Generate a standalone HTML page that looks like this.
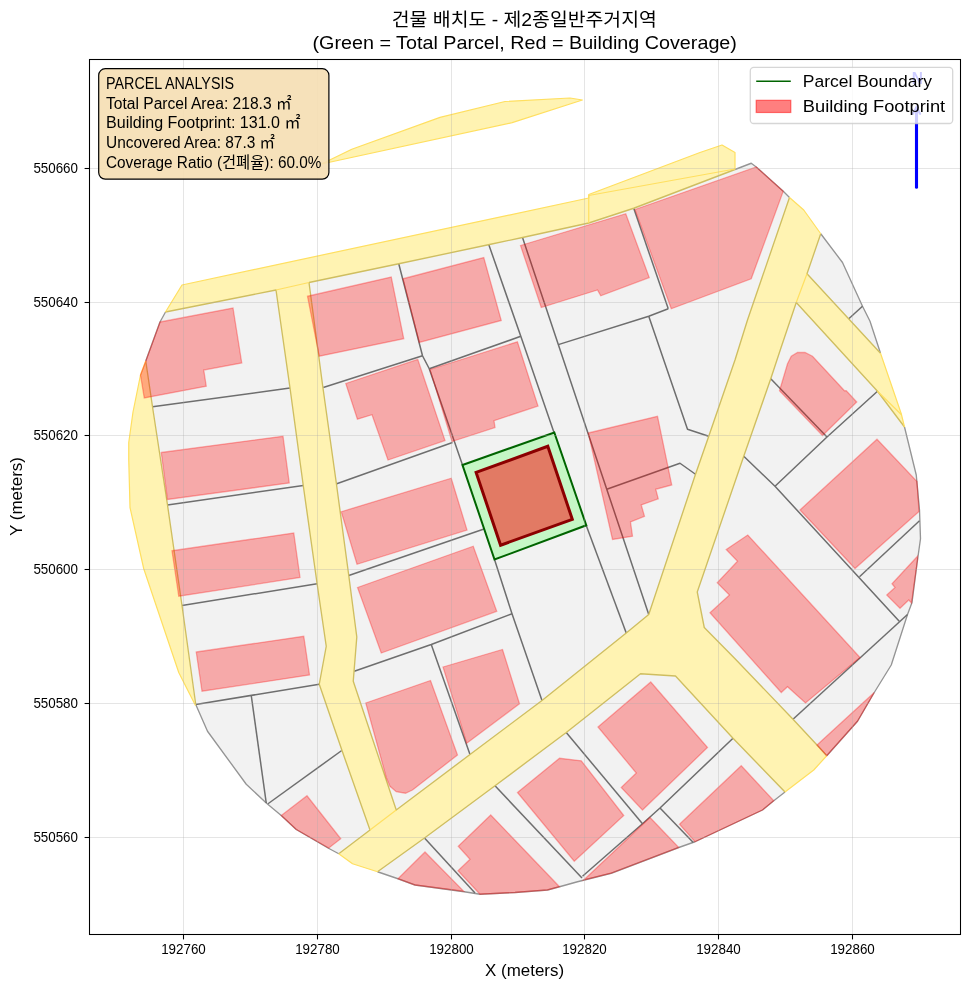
<!DOCTYPE html>
<html lang="ko">
<head>
<meta charset="utf-8">
<title>건물 배치도</title>
<style>
html,body{margin:0;padding:0;background:#fff;}
svg{display:block;}
text{font-family:"Liberation Sans", "Noto Sans CJK KR", sans-serif;fill:#000;}
</style>
</head>
<body>
<svg width="969" height="990" viewBox="0 0 969 990">
<rect x="0" y="0" width="969" height="990" fill="#fff"/>
<defs><clipPath id="ax"><rect x="89.50" y="59.50" width="871.00" height="875.00"/></clipPath></defs>
<g clip-path="url(#ax)">
<polygon points="751.25,163.25 756.25,167.00 783.25,191.25 789.50,197.50 803.75,210.00 820.75,233.75 842.50,262.50 862.50,306.25 870.00,321.25 880.50,353.25 901.25,413.75 904.50,427.00 916.25,475.00 919.50,510.00 920.50,538.75 917.50,560.00 912.00,602.50 907.50,614.50 891.25,665.00 874.25,692.50 857.50,721.25 826.75,755.75 813.75,770.00 785.00,792.00 773.75,800.75 762.50,810.00 695.00,841.75 678.75,847.50 611.25,873.25 577.50,881.75 559.50,886.75 547.50,890.00 515.00,892.50 480.00,894.25 464.25,891.75 415.00,885.00 398.00,878.75 377.50,871.75 352.50,863.75 338.75,853.75 328.00,848.00 296.25,829.50 281.25,815.50 266.25,803.00 246.25,784.25 207.50,731.25 195.75,704.50 182.00,605.50 167.50,505.00 152.50,406.75 145.75,361.00 160.00,322.00 165.50,312.00 276.00,290.00 309.00,282.50 398.75,263.75 489.50,244.50 522.50,237.50 588.75,223.00 633.75,208.25" fill="#f2f2f2"/>
<g fill="none" stroke="#959595" stroke-width="1.35" stroke-linejoin="round">
<polyline points="735.00,169.50 751.25,163.25 756.25,167.00 783.25,191.25 789.50,197.50"/>
<polyline points="820.75,233.75 842.50,262.50 862.50,306.25 870.00,321.25 880.50,353.25"/>
<polyline points="904.50,427.00 916.25,475.00 919.50,510.00 920.50,538.75 917.50,560.00 912.00,602.50 907.50,614.50 891.25,665.00 874.25,692.50 857.50,721.25 826.75,755.75"/>
<polyline points="785.00,792.00 773.75,800.75 762.50,810.00 695.00,841.75 678.75,847.50 611.25,873.25 577.50,881.75 559.50,886.75 547.50,890.00 515.00,892.50 480.00,894.25 464.25,891.75 415.00,885.00 398.00,878.75 377.50,871.75"/>
<polyline points="338.75,853.75 328.00,848.00 296.25,829.50 281.25,815.50 266.25,803.00 246.25,784.25 207.50,731.25 195.75,704.50"/>
<polyline points="145.75,361.00 160.00,322.00 165.50,312.00"/>
</g>
<g fill="none" stroke="#6e6e6e" stroke-width="1.5" stroke-linejoin="round">
<polyline points="152.50,406.75 290.00,388.00"/>
<polyline points="167.50,505.00 303.25,485.50"/>
<polyline points="182.00,605.50 317.10,583.75"/>
<polyline points="195.75,704.50 319.25,684.25"/>
<polyline points="251.25,695.50 266.25,803.00"/>
<polyline points="268.00,803.75 341.75,750.50"/>
<polyline points="323.25,387.50 422.50,355.75"/>
<polyline points="398.75,263.75 422.50,355.75 429.25,368.75 462.50,465.00"/>
<polyline points="429.25,368.75 520.80,336.30"/>
<polyline points="336.75,483.75 452.50,442.50"/>
<polyline points="348.75,575.50 484.00,529.00"/>
<polyline points="494.50,559.50 512.00,613.75 542.00,700.50"/>
<polyline points="354.25,671.25 431.25,644.50 512.00,613.75"/>
<polyline points="431.25,644.50 470.00,754.50"/>
<polyline points="488.75,244.50 520.80,336.30 554.00,432.50"/>
<polyline points="522.50,237.50 558.30,344.60 606.75,489.25 648.75,614.50"/>
<polyline points="558.30,344.60 648.75,316.25 668.25,308.75"/>
<polyline points="633.75,208.25 668.25,308.75"/>
<polyline points="648.75,316.25 687.50,429.25 708.75,436.25"/>
<polyline points="586.25,525.50 626.25,633.00"/>
<polyline points="606.75,489.25 680.00,463.25 695.50,474.25"/>
<polyline points="770.75,378.75 827.00,437.00"/>
<polyline points="877.50,391.25 827.00,437.00 775.00,486.25"/>
<polyline points="743.75,456.25 775.00,486.25 899.25,621.25"/>
<polyline points="919.50,520.75 859.50,576.75"/>
<polyline points="907.50,614.50 793.00,719.25"/>
<polyline points="848.75,318.75 862.50,306.25"/>
<polyline points="424.50,838.00 475.00,893.00"/>
<polyline points="495.00,785.75 582.00,878.00"/>
<polyline points="566.25,732.50 642.50,823.75"/>
<polyline points="582.50,876.25 642.50,823.75 660.00,808.00 733.00,738.25"/>
<polyline points="660.00,808.00 693.25,842.50"/>
</g>
<g fill="#fff3b2" stroke="none">
<polygon points="321.50,164.00 351.80,149.20 440.00,117.40 505.00,101.50 570.00,98.00 582.40,100.00 512.20,122.60"/>
<polygon points="165.50,312.00 182.00,285.00 588.75,198.00 588.75,194.50 700.00,152.50 722.00,145.00 735.00,152.50 735.00,169.50 633.75,208.25 588.75,223.00 522.50,237.50 489.50,244.50 398.75,263.75 309.00,282.50 276.00,290.00"/>
<polygon points="276.00,290.00 290.00,388.00 303.25,485.50 317.10,583.75 326.25,646.25 319.25,684.25 342.00,750.50 370.00,830.00 396.25,810.00 353.25,681.25 356.80,637.00 348.80,575.75 336.40,483.75 322.90,387.50 309.00,282.50"/>
<polygon points="338.75,853.75 370.00,830.00 396.25,810.00 470.00,754.50 542.00,700.50 626.25,633.00 648.75,614.50 695.50,474.25 708.75,436.25 735.00,360.00 747.50,320.00 789.50,197.50 803.75,210.00 820.75,233.75 807.00,273.75 796.25,302.50 781.25,347.00 770.75,378.75 743.75,456.25 697.25,592.00 704.25,627.50 736.25,660.00 793.00,719.25 817.00,745.00 826.75,755.75 813.75,770.00 785.00,792.00 733.00,738.25 675.50,676.00 640.50,673.75 566.25,732.50 495.00,785.75 424.50,838.00 377.50,871.75 352.50,863.75"/>
<polygon points="807.00,273.75 880.50,353.25 901.25,413.75 904.50,427.00 877.50,391.25 796.25,302.50"/>
<polygon points="145.75,361.00 140.50,375.00 133.00,412.00 128.75,442.50 128.75,460.00 130.00,507.50 143.75,568.75 178.75,672.50 195.50,705.50 182.00,605.50 167.50,505.00 152.50,406.75"/>
</g>
<g fill="none" stroke="#cfbe60" stroke-width="1.35" stroke-linejoin="round">
<polyline points="165.50,312.00 276.00,290.00 290.00,388.00 303.25,485.50 317.10,583.75 326.25,646.25 319.25,684.25 342.00,750.50 370.00,830.00 338.75,853.75"/>
<polyline points="309.00,282.50 322.90,387.50 336.40,483.75 348.80,575.75 356.80,637.00 353.25,681.25 396.25,810.00 470.00,754.50 542.00,700.50 626.25,633.00 648.75,614.50 695.50,474.25 708.75,436.25 735.00,360.00 747.50,320.00 789.50,197.50"/>
<polyline points="309.00,282.50 398.75,263.75 489.50,244.50 522.50,237.50 588.75,223.00 633.75,208.25 735.00,169.50"/>
<polyline points="820.75,233.75 807.00,273.75 880.50,353.25"/>
<polyline points="904.50,427.00 877.50,391.25 796.25,302.50 781.25,347.00 770.75,378.75 743.75,456.25 697.25,592.00 704.25,627.50 736.25,660.00 793.00,719.25 817.00,745.00 826.75,755.75"/>
<polyline points="785.00,792.00 733.00,738.25 675.50,676.00 640.50,673.75 566.25,732.50 495.00,785.75 424.50,838.00 377.50,871.75"/>
<polyline points="145.75,361.00 152.50,406.75 167.50,505.00 182.00,605.50 195.75,704.50"/>
</g>
<g fill="none" stroke="#ffdf60" stroke-width="1.2" stroke-linejoin="round">
<polyline points="321.50,164.00 351.80,149.20 440.00,117.40 505.00,101.50 570.00,98.00 582.40,100.00 512.20,122.60 321.50,164.00"/>
<polyline points="165.50,312.00 182.00,285.00 588.75,198.00 588.75,194.50 700.00,152.50 722.00,145.00 735.00,152.50 735.00,169.50"/>
<polyline points="588.75,223.00 588.75,195.50 735.00,169.00"/>
<polyline points="276.00,290.00 309.00,282.50"/>
<polyline points="370.00,830.00 396.25,810.00"/>
<polyline points="789.50,197.50 803.75,210.00 820.75,233.75"/>
<polyline points="807.00,273.75 796.25,302.50"/>
<polyline points="880.50,353.25 901.25,413.75 904.50,427.00"/>
<polyline points="877.50,391.25 901.25,414.50"/>
<polyline points="826.75,755.75 813.75,770.00 785.00,792.00"/>
<polyline points="377.50,871.75 352.50,863.75 338.75,853.75"/>
<polyline points="145.75,361.00 140.50,375.00 133.00,412.00 128.75,442.50 128.75,460.00 130.00,507.50 143.75,568.75 178.75,672.50 195.50,705.50"/>
</g>
<g fill="rgba(255,0,0,0.3)" stroke="rgba(255,0,0,0.3)" stroke-width="1.3" stroke-linejoin="miter">
<polygon points="160.00,322.00 233.00,308.00 241.75,363.00 203.75,370.00 206.25,386.25 144.25,398.00 140.50,375.00 145.75,361.25"/>
<polygon points="161.25,452.50 283.00,436.25 289.25,483.00 167.50,499.50"/>
<polygon points="172.00,550.75 293.75,533.00 300.00,577.50 178.75,596.25"/>
<polygon points="196.25,652.00 303.75,636.25 309.50,675.00 202.00,691.25"/>
<polygon points="281.25,815.50 307.00,795.75 340.75,838.75 328.75,848.00 296.25,829.50"/>
<polygon points="307.50,296.25 391.25,277.00 403.75,338.75 319.25,356.25"/>
<polygon points="403.00,278.75 483.75,257.50 501.25,320.50 419.25,342.50"/>
<polygon points="345.75,383.50 417.75,359.40 445.00,440.50 388.00,460.00 372.00,414.75 357.40,419.20"/>
<polygon points="430.00,369.50 517.40,341.80 538.00,406.00 494.00,420.70 495.00,427.60 452.00,441.50"/>
<polygon points="520.50,245.50 625.75,213.75 649.25,277.50 600.75,295.75 597.50,290.00 541.25,307.50"/>
<polygon points="635.00,209.50 756.25,167.00 783.25,191.25 751.25,278.75 671.25,308.75"/>
<polygon points="341.25,511.75 451.25,478.25 467.00,530.00 357.00,564.25"/>
<polygon points="357.50,587.50 473.25,546.25 496.75,611.25 381.25,653.00"/>
<polygon points="588.25,433.00 657.50,416.25 671.75,485.00 655.75,489.25 658.25,498.75 641.25,505.00 644.50,516.25 630.50,522.00 632.50,536.25 612.50,539.50"/>
<polygon points="365.75,703.00 430.50,680.50 457.50,755.00 412.50,790.00 405.50,793.25 396.25,791.75 390.00,786.25 386.25,777.50"/>
<polygon points="443.00,667.00 502.50,649.50 519.50,703.75 466.75,743.25"/>
<polygon points="398.00,878.75 425.00,852.00 463.75,891.25 415.00,885.00"/>
<polygon points="490.75,815.00 559.50,886.75 547.50,890.00 515.00,892.50 480.00,894.25 458.00,870.75 470.00,859.25 458.25,846.25"/>
<polygon points="517.50,792.50 559.50,758.25 581.25,760.75 623.75,815.50 574.25,861.25"/>
<polygon points="598.00,727.00 650.75,682.00 707.50,747.50 642.50,810.00 621.25,787.50 636.25,773.00"/>
<polygon points="583.75,880.00 650.00,817.50 678.75,847.50 611.25,873.25"/>
<polygon points="679.50,824.25 741.25,765.75 773.75,800.75 762.50,810.00 695.00,841.75"/>
<polygon points="726.25,549.50 747.75,535.00 860.00,657.50 805.50,703.00 787.50,686.75 781.25,692.50 710.00,612.75 729.40,595.00 717.25,582.75 737.50,561.25"/>
<polygon points="817.00,745.00 874.25,692.50 857.50,721.25 826.75,755.75"/>
<polygon points="917.50,556.25 892.00,583.75 895.00,587.50 886.75,595.00 900.00,608.25 908.75,600.00 911.50,603.00 917.50,560.00"/>
<polygon points="779.50,390.75 787.50,363.75 791.25,356.25 797.50,352.50 805.00,352.50 812.50,356.25 844.50,390.75 846.25,390.75 856.75,402.00 822.50,435.50"/>
<polygon points="800.00,510.00 877.00,439.25 917.00,481.50 919.00,511.50 855.00,568.50"/>
</g>
<polygon points="462.50,465.00 554.30,432.50 586.30,525.30 494.50,559.50" fill="#c5f7c5" stroke="#006400" stroke-width="2" stroke-linejoin="miter"/>
<polygon points="476.10,472.40 547.80,446.30 572.30,519.30 500.60,545.20" fill="#e27a64" stroke="#8b0000" stroke-width="3" stroke-linejoin="miter"/>
<g stroke="rgba(170,170,170,0.3)" stroke-width="1" fill="none">
<line x1="183.50" y1="59.50" x2="183.50" y2="934.50"/>
<line x1="317.50" y1="59.50" x2="317.50" y2="934.50"/>
<line x1="451.50" y1="59.50" x2="451.50" y2="934.50"/>
<line x1="584.50" y1="59.50" x2="584.50" y2="934.50"/>
<line x1="718.50" y1="59.50" x2="718.50" y2="934.50"/>
<line x1="852.50" y1="59.50" x2="852.50" y2="934.50"/>
<line x1="89.50" y1="168.50" x2="960.50" y2="168.50"/>
<line x1="89.50" y1="302.50" x2="960.50" y2="302.50"/>
<line x1="89.50" y1="435.50" x2="960.50" y2="435.50"/>
<line x1="89.50" y1="569.50" x2="960.50" y2="569.50"/>
<line x1="89.50" y1="703.50" x2="960.50" y2="703.50"/>
<line x1="89.50" y1="837.50" x2="960.50" y2="837.50"/>
</g>
<line x1="916.5" y1="187.3" x2="916.5" y2="108" stroke="#0000ff" stroke-width="3.1" stroke-linecap="round"/>
<polyline points="912.9,113.8 916.5,107.2 920.1,113.8" fill="none" stroke="#0000ff" stroke-width="2.2" stroke-linecap="round" stroke-linejoin="miter"/>
<text x="917.3" y="84.4" text-anchor="middle" font-size="16.5" font-weight="bold" textLength="11.2" lengthAdjust="spacingAndGlyphs" style="fill:#0000ff">N</text>
</g>
<rect x="89.50" y="59.50" width="871.00" height="875.00" fill="none" stroke="#000" stroke-width="1.07"/>
<g stroke="#000" stroke-width="1.07">
<line x1="183.50" y1="934.50" x2="183.50" y2="939.40"/>
<line x1="317.50" y1="934.50" x2="317.50" y2="939.40"/>
<line x1="451.50" y1="934.50" x2="451.50" y2="939.40"/>
<line x1="584.50" y1="934.50" x2="584.50" y2="939.40"/>
<line x1="718.50" y1="934.50" x2="718.50" y2="939.40"/>
<line x1="852.50" y1="934.50" x2="852.50" y2="939.40"/>
<line x1="84.60" y1="168.50" x2="89.50" y2="168.50"/>
<line x1="84.60" y1="302.50" x2="89.50" y2="302.50"/>
<line x1="84.60" y1="435.50" x2="89.50" y2="435.50"/>
<line x1="84.60" y1="569.50" x2="89.50" y2="569.50"/>
<line x1="84.60" y1="703.50" x2="89.50" y2="703.50"/>
<line x1="84.60" y1="837.50" x2="89.50" y2="837.50"/>
</g>
<g font-size="14.2">
<text x="183.50" y="954.0" text-anchor="middle" textLength="44.6" lengthAdjust="spacingAndGlyphs">192760</text>
<text x="317.50" y="954.0" text-anchor="middle" textLength="44.6" lengthAdjust="spacingAndGlyphs">192780</text>
<text x="451.50" y="954.0" text-anchor="middle" textLength="44.6" lengthAdjust="spacingAndGlyphs">192800</text>
<text x="584.50" y="954.0" text-anchor="middle" textLength="44.6" lengthAdjust="spacingAndGlyphs">192820</text>
<text x="718.50" y="954.0" text-anchor="middle" textLength="44.6" lengthAdjust="spacingAndGlyphs">192840</text>
<text x="852.50" y="954.0" text-anchor="middle" textLength="44.6" lengthAdjust="spacingAndGlyphs">192860</text>
<text x="78.0" y="173.40" text-anchor="end" textLength="44.6" lengthAdjust="spacingAndGlyphs">550660</text>
<text x="78.0" y="307.40" text-anchor="end" textLength="44.6" lengthAdjust="spacingAndGlyphs">550640</text>
<text x="78.0" y="440.40" text-anchor="end" textLength="44.6" lengthAdjust="spacingAndGlyphs">550620</text>
<text x="78.0" y="574.40" text-anchor="end" textLength="44.6" lengthAdjust="spacingAndGlyphs">550600</text>
<text x="78.0" y="708.40" text-anchor="end" textLength="44.6" lengthAdjust="spacingAndGlyphs">550580</text>
<text x="78.0" y="842.40" text-anchor="end" textLength="44.6" lengthAdjust="spacingAndGlyphs">550560</text>
</g>
<text x="524.6" y="976" text-anchor="middle" font-size="16" textLength="79" lengthAdjust="spacingAndGlyphs">X (meters)</text>
<text transform="translate(21.5,496.5) rotate(-90)" text-anchor="middle" font-size="16" textLength="79" lengthAdjust="spacingAndGlyphs">Y (meters)</text>
<text x="524.3" y="26.2" text-anchor="middle" font-size="18.67" textLength="265" lengthAdjust="spacingAndGlyphs">건물 배치도 - 제2종일반주거지역</text>
<text x="524.7" y="49.4" text-anchor="middle" font-size="18.67" textLength="424.5" lengthAdjust="spacingAndGlyphs">(Green = Total Parcel, Red = Building Coverage)</text>
<rect x="98.7" y="68.7" width="230.2" height="110.5" rx="6.6" ry="6.6" fill="rgba(245,222,179,0.9)" stroke="#000" stroke-width="1.2"/>
<g font-size="16">
<text x="106.0" y="88.9" textLength="128.0" lengthAdjust="spacingAndGlyphs">PARCEL ANALYSIS</text>
<text x="106.0" y="108.7" textLength="185.5" lengthAdjust="spacingAndGlyphs">Total Parcel Area: 218.3 ㎡</text>
<text x="106.0" y="128.3" textLength="194.5" lengthAdjust="spacingAndGlyphs">Building Footprint: 131.0 ㎡</text>
<text x="106.0" y="147.9" textLength="169.0" lengthAdjust="spacingAndGlyphs">Uncovered Area: 87.3 ㎡</text>
<text x="106.0" y="167.6" textLength="215.5" lengthAdjust="spacingAndGlyphs">Coverage Ratio (건폐율): 60.0%</text>
</g>
<rect x="750.3" y="67.4" width="202.4" height="56.1" rx="3.5" ry="3.5" fill="rgba(255,255,255,0.8)" stroke="rgba(204,204,204,0.8)" stroke-width="1.3"/>
<line x1="756.2" y1="81.3" x2="790.8" y2="81.3" stroke="#006400" stroke-width="1.4"/>
<rect x="756.2" y="100.3" width="34.6" height="12.2" fill="rgba(255,0,0,0.5)" stroke="rgba(255,0,0,0.5)" stroke-width="1.2"/>
<text x="802.8" y="87.3" font-size="17.33" textLength="129.2" lengthAdjust="spacingAndGlyphs">Parcel Boundary</text>
<text x="802.8" y="112.4" font-size="17.33" textLength="142.4" lengthAdjust="spacingAndGlyphs">Building Footprint</text>
</svg>
</body>
</html>
